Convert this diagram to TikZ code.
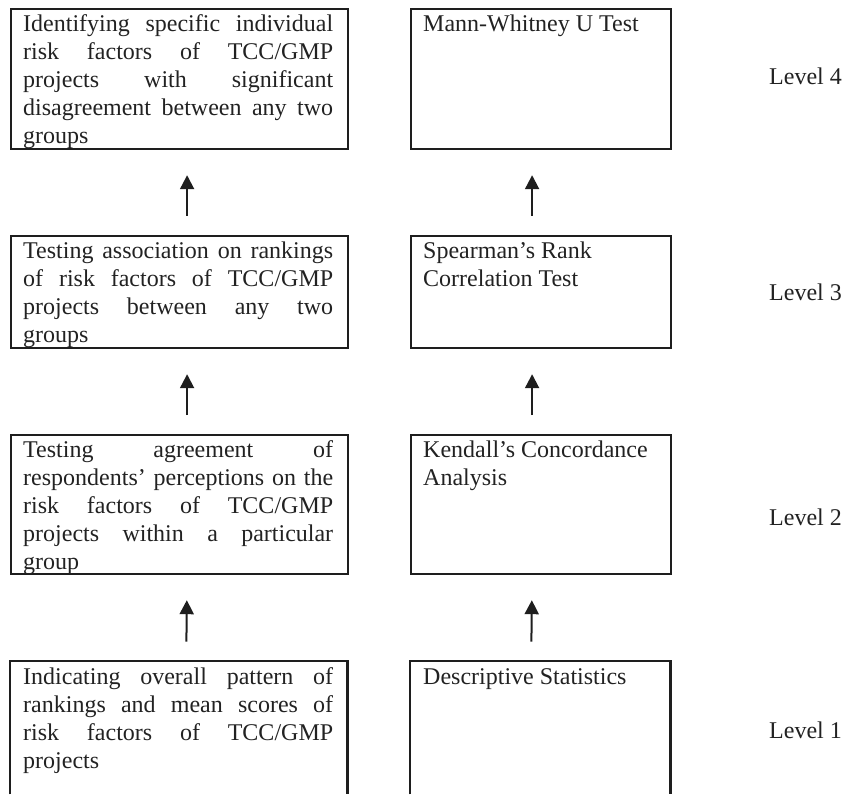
\documentclass[tikz,border=0pt]{standalone}
\usepackage{fontspec}
\setmainfont{Liberation Serif}
\usetikzlibrary{arrows.meta}
\definecolor{boxc}{HTML}{1E1E1E}
\definecolor{txtc}{HTML}{222222}
\newcommand\jl[1]{\makebox[310pt][s]{#1}}
\newcommand\fst{\rule{0pt}{18pt}}
\begin{document}
\begin{tikzpicture}[x=1pt,y=1pt,
  box/.style={draw=boxc, line width=2.2pt, inner sep=0pt, anchor=north west},
  lbox/.style={box, minimum width=337pt},
  rbox/.style={box, minimum width=260pt},
  openbox/.style={inner sep=0pt, anchor=north west},
  txt/.style={anchor=north west, inner sep=0pt, align=left, text=txtc, font=\fontsize{24}{28}\selectfont},
  lvl/.style={anchor=base west, inner sep=0pt, text=txtc, font=\fontsize{24}{28}\selectfont},
  arr/.style={draw=boxc, line width=2pt, -{Triangle[width=14pt,length=14pt]}, shorten <=19pt, shorten >=25pt},
]
\useasboundingbox (0,0) rectangle (842,-794);

% boxes
\node[lbox, minimum height=140pt] (l4) at (10,-8) {};
\node[rbox, minimum height=140pt] (r4) at (410,-8) {};
\node[lbox, minimum height=112pt] (l3) at (10,-235) {};
\node[rbox, minimum height=112pt] (r3) at (410,-235) {};
\node[lbox, minimum height=139pt] (l2) at (10,-434) {};
\node[rbox, minimum height=139pt] (r2) at (410,-434) {};
\node[openbox, minimum width=337pt, minimum height=133.3pt] (l1) at (10,-660.7) {};
\node[openbox, minimum width=260pt, minimum height=133.3pt] (r1) at (410,-660.7) {};
\draw[draw=boxc, line width=2.2pt] (l1.south west) -- (l1.north west) -- (l1.north east) -- (l1.south east);
\draw[draw=boxc, line width=2.2pt] (r1.south west) -- (r1.north west) -- (r1.north east) -- (r1.south east);

% texts
\node[txt] (t4l) at (23,-13.5) {\fst\jl{Identifying specific individual}\\
\jl{risk factors of TCC/GMP}\\
\jl{projects with significant}\\
\jl{disagreement between any two}\\
groups};
\node[txt] (t4r) at (423,-13.5) {\fst Mann-Whitney U Test};

\node[txt] (t3l) at (23,-240.5) {\fst\jl{Testing association on rankings}\\
\jl{of risk factors of TCC/GMP}\\
\jl{projects between any two}\\
groups};
\node[txt] (t3r) at (423,-240.5) {\fst Spearman’s Rank\\Correlation Test};

\node[txt] (t2l) at (23,-439.5) {\fst\jl{Testing agreement of}\\
\jl{respondents’ perceptions on the}\\
\jl{risk factors of TCC/GMP}\\
\jl{projects within a particular}\\
group};
\node[txt] (t2r) at (423,-439.5) {\fst Kendall’s Concordance\\Analysis};

\node[txt] (t1l) at (23,-666.2) {\fst\jl{Indicating overall pattern of}\\
\jl{rankings and mean scores of}\\
\jl{risk factors of TCC/GMP}\\
projects};
\node[txt] (t1r) at (423,-666.2) {\fst Descriptive Statistics};

% level labels
\node[lvl] (lv4) at (769,-85) {Level 4};
\node[lvl] (lv3) at (769,-300) {Level 3};
\node[lvl] (lv2) at (769,-525) {Level 2};
\node[lvl] (lv1) at (769,-738) {Level 1};

% arrows
\draw[arr] ([xshift=7.5pt]l3.north) -- ([xshift=7.5pt]l4.south);
\draw[arr] ([xshift=-9pt]r3.north) -- ([xshift=-9pt]r4.south);
\draw[arr] ([xshift=7.5pt]l2.north) -- ([xshift=7.5pt]l3.south);
\draw[arr] ([xshift=-9pt]r2.north) -- ([xshift=-9pt]r3.south);
\draw[arr] ([xshift=7.5pt]l1.north) -- ([xshift=7.5pt]l2.south);
\draw[arr] ([xshift=-9pt]r1.north) -- ([xshift=-9pt]r2.south);
\end{tikzpicture}
\end{document}
